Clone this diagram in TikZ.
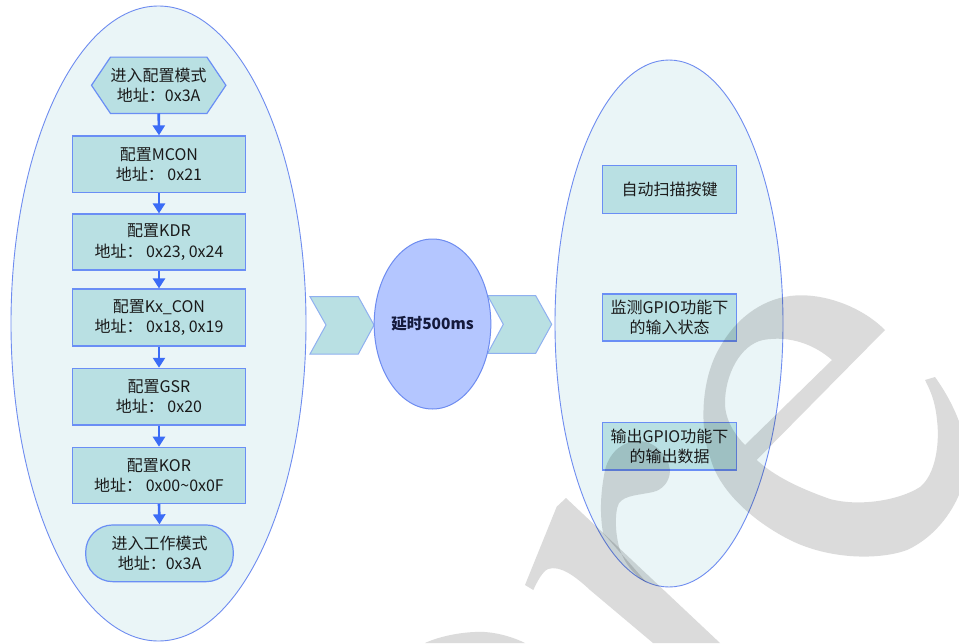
\documentclass[tikz,border=0pt]{standalone}
\usepackage{fontspec}
\newfontfamily\cjk{Noto Sans CJK SC}
\usetikzlibrary{arrows.meta,shapes.geometric}
\definecolor{ellfill}{HTML}{EAF5F7}
\definecolor{ellborder}{HTML}{6E8CF0}
\definecolor{boxfill}{HTML}{B9E0E3}
\definecolor{boxborder}{HTML}{6A8EF5}
\definecolor{midfill}{HTML}{B4C6FF}
\definecolor{chevborder}{HTML}{8FB0F0}
\definecolor{arrowblue}{HTML}{3B6CF6}
\definecolor{txt}{HTML}{1A1A1A}
\definecolor{midtxt}{HTML}{141A3C}
\tikzset{
  bigell/.style={draw=ellborder, fill=ellfill, line width=0.9pt},
  txtfont/.style={font=\cjk\fontsize{16}{20.5}\selectfont, text=txt, align=center},
  procbox/.style={rectangle, draw=boxborder, fill=boxfill, line width=1.2pt,
    minimum width=173.4pt, inner sep=0pt, txtfont},
  rbox/.style={rectangle, draw=boxborder, fill=boxfill, line width=1.2pt,
    minimum width=134.4pt, inner sep=0pt, txtfont},
  flow/.style={draw=arrowblue, line width=2.6pt,
    -{Triangle[length=10pt,width=12pt]}, shorten >=0pt},
  chev/.style={draw=chevborder, fill=boxfill, line width=1pt, line join=miter},
  wmark/.style={fill=black, fill opacity=0.14, draw=none}
}
\begin{document}
\begin{tikzpicture}[x=1pt,y=-1pt]
\useasboundingbox (0,0) rectangle (959,643);
\fill[white] (0,0) rectangle (959,643);
% big ellipses
\node[bigell, ellipse, minimum width=295pt, minimum height=635pt, inner sep=0pt] (lell) at (158.5,323.5) {};
\node[bigell, ellipse, minimum width=228pt, minimum height=527pt, inner sep=0pt] (rell) at (669,323.5) {};
% left flow
\node[txtfont, minimum width=134pt, minimum height=56pt, inner sep=0pt] (hex) at (158.7,85.3) {};
\draw[draw=boxborder, fill=boxfill, line width=1.2pt]
  ([xshift=19pt]hex.north west) -- ([xshift=-19pt]hex.north east) -- (hex.east)
  -- ([xshift=-19pt]hex.south east) -- ([xshift=19pt]hex.south west) -- (hex.west) -- cycle;
\node[txtfont] at (hex.center) {进入配置模式\\地址：0x3A};
\node[procbox, minimum height=56.7pt] (mcon) at (159,164.3) {配置MCON\\地址： 0x21};
\node[procbox, minimum height=56pt] (kdr) at (159,242) {配置KDR\\地址： 0x23, 0x24};
\node[procbox, minimum height=57pt] (kxcon) at (159,317.5) {配置Kx\_CON\\地址： 0x18, 0x19};
\node[procbox, minimum height=56.7pt] (gsr) at (159,396.7) {配置GSR\\地址： 0x20};
\node[procbox, minimum height=56pt] (kor) at (159,475.3) {配置KOR\\地址： 0x00\textasciitilde 0x0F};
\node[procbox, minimum width=147.6pt, minimum height=56.7pt, rounded corners=27pt] (work) at (159.5,553.3) {进入工作模式\\地址：0x3A};
\draw[flow] (hex.south) -- (mcon.north);
\draw[flow] (mcon.south) -- (kdr.north);
\draw[flow] (kdr.south) -- (kxcon.north);
\draw[flow] (kxcon.south) -- (gsr.north);
\draw[flow] (gsr.south) -- (kor.north);
\draw[flow] (kor.south) -- (work.north);
% chevrons
\draw[chev] (310,296.7) -- (358.3,296.7) -- (374,325) -- (358.3,354) -- (310,354) -- (326,325) -- cycle;
\draw[chev] (487.7,295.7) -- (535.7,295.7) -- (551.7,324.3) -- (535.7,353.3) -- (487.7,353.3) -- (503.3,324.3) -- cycle;
% middle ellipse
\node[ellipse, draw=ellborder, fill=midfill, line width=1pt, minimum width=109pt, minimum height=170pt, inner sep=0pt,
  font=\cjk\bfseries\fontsize{15.5}{20}\selectfont, text=midtxt] (delay) at (432.5,324) {延时500ms};
% right boxes
\node[rbox, minimum height=47.6pt] (scan) at (669.5,189.5) {自动扫描按键};
\node[rbox, minimum height=47pt] (gin) at (669.5,317.5) {监测GPIO功能下\\的输入状态};
\node[rbox, minimum height=47.3pt] (gout) at (669.5,446.3) {输出GPIO功能下\\的输出数据};
% watermark
\begin{scope}
\clip (0,0) rectangle (959,643);
% letter e
\fill[wmark, even odd rule]
  (885,330) -- (756.7,460)
  .. controls (770,472) and (790,485) .. (830,499)
  .. controls (860,507) and (900,500) .. (920,487)
  .. controls (935,475) and (940,445) .. (937,420)
  .. controls (935,400) and (930,390) .. (925,380)
  -- (935,377)
  .. controls (955,405) and (970,440) .. (966,470)
  .. controls (962,500) and (940,535) .. (907,550)
  .. controls (880,560) and (830,560) .. (790,540)
  .. controls (760,525) and (720,495) .. (710,457)
  .. controls (700,430) and (700,380) .. (720,347)
  .. controls (735,320) and (760,300) .. (790,296)
  .. controls (820,292) and (860,305) .. (885,330) -- cycle
  (832,360) .. controls (815,345) and (790,335) .. (763,340)
  .. controls (740,345) and (725,375) .. (725,403)
  .. controls (725,420) and (735,435) .. (745,445) -- cycle;
% letter r: stem with serif
\fill[wmark]
  (566,498) -- (720,643) -- (653,643) -- (590,590)
  .. controls (575,576) and (560,565) .. (548,569)
  .. controls (542,572) and (537,582) .. (533.3,590)
  -- (525,585) -- (556.7,506.7) -- cycle;
% r shoulder
\fill[wmark]
  (603,533) .. controls (600,515) and (600,495) .. (605,470)
  .. controls (610,450) and (625,441) .. (638,441)
  .. controls (655,441) and (668,455) .. (670,470)
  .. controls (670,482) and (662,490) .. (653,492)
  .. controls (640,495) and (625,495) .. (619,503)
  .. controls (614,512) and (615,540) .. (622,555)
  .. controls (628,568) and (637,577) .. (647,583)
  -- cycle;
% partial round letter at bottom
\fill[wmark] (425,643) .. controls (440,636) and (465,631) .. (485,632)
  .. controls (500,633) and (515,638) .. (525,643) -- cycle;
\end{scope}
\end{tikzpicture}
\end{document}
